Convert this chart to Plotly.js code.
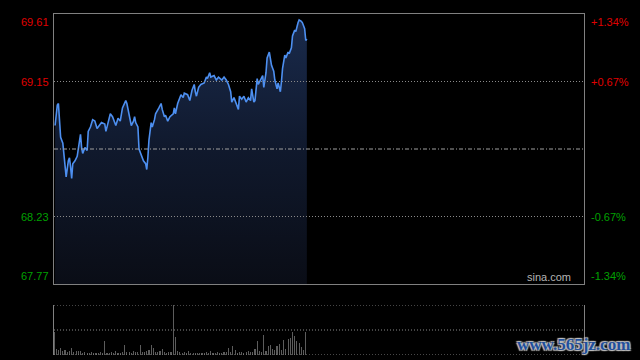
<!DOCTYPE html>
<html>
<head>
<meta charset="utf-8">
<script src="https://cdn.plot.ly/plotly-3.0.1.min.js"></script>
<style>
html,body{margin:0;padding:0;background:#000;}
#chart{width:640px;height:360px;}
</style>
</head>
<body>
<div id="chart"></div>
<script>
// Minutes since the open (0..240 covers the full trading day)
const minutes = [0.5,1.5,2,2.5,3,4,5,5.5,6.5,7,7.5,8,8.5,9.5,10.5,11,12,12.5,13,14,15,15.5,16.5,17.5,18.5,19.5,20.5,21.5,23,23.5,24.5,25.5,26.5,28,29,30,31,32.5,33,34,35,36,36.5,37,38,38.5,39.5,40.5,41.5,42,42.5,43,44,44.5,45.5,46,47.5,48.5,49,50,50.5,51.5,52.5,54,54.5,55,56,57.5,58.5,59,60.5,61.5,62.5,63.5,64,64.5,65.5,66.5,68,69,69.5,70.5,71,72.5,73.5,74.5,76,77,78,79,80,80.5,81.5,82.5,83.5,84,85,86,87,88,89,89.5,90.5,91,92,92.5,93.5,94.5,95,96,96.5,97.5,98.5,99.5,100,101,101.5,102.5,103,103.5,104.5,105,106,106.5,107.5,108,109,109.5,110.5,111,112,112.5,113.5,114,114.5];
const prices = [68.85,68.99,69.00,68.91,68.77,68.73,68.59,68.50,68.61,68.63,68.57,68.49,68.59,68.61,68.64,68.70,68.79,68.70,68.66,68.70,68.68,68.81,68.84,68.89,68.88,68.83,68.85,68.87,68.86,68.81,68.87,68.93,68.91,68.85,68.90,68.88,68.97,69.02,69.00,68.92,68.85,68.88,68.91,68.87,68.84,68.69,68.65,68.61,68.59,68.55,68.63,68.75,68.87,68.84,68.89,68.93,68.97,69.00,68.96,68.91,68.92,68.88,68.91,68.93,68.97,68.93,69.00,69.06,69.04,69.07,69.06,69.02,69.09,69.13,69.08,69.05,69.11,69.13,69.14,69.18,69.17,69.21,69.18,69.19,69.16,69.18,69.16,69.18,69.16,69.13,69.08,69.01,69.04,69.00,68.96,69.05,69.03,69.05,69.01,69.04,69.02,69.10,69.01,69.02,69.17,69.13,69.16,69.19,69.11,69.21,69.31,69.35,69.26,69.22,69.16,69.10,69.14,69.08,69.15,69.24,69.33,69.31,69.35,69.34,69.38,69.46,69.50,69.49,69.55,69.57,69.56,69.55,69.51,69.43,69.44];
// Volume per minute, one value per minute from the open
const volumes = [45,12,9,14,7,9,6,8,14,5,8,8,7,4,5,3,4,6,3,4,3,5,4,27,4,3,5,4,8,3,4,6,20,5,6,4,7,5,6,19,5,6,8,10,20,14,6,5,7,12,6,4,5,6,100,35,7,5,4,5,4,8,3,4,3,4,3,4,3,5,4,8,4,3,6,4,3,5,6,13,5,17,9,4,5,6,4,5,7,6,5,11,27,7,6,40,8,17,20,12,9,18,22,10,30,12,31,33,47,38,27,24,15,10,47];
const prevClose = 68.69;
const priceTicks = [69.61, 69.15, 68.23, 67.77];
const priceTickText = ["69.61", "69.15", "68.23", "67.77"];
const pctTickText = ["+1.34%", "+0.67%", "-0.67%", "-1.34%"];
const dayMinutes = 240;
const volMax = 100;

const volMinutes = volumes.map((v, i) => i);
const RED = "#e00000", GREEN = "#00a000";
const FONT = "Arial, 'Liberation Sans', sans-serif";

const traces = [
  {
    x: minutes, y: prices, type: "scatter", mode: "lines",
    line: {color: "#4d8ff0", width: 1.6},
    fill: "tozeroy",
    fillgradient: {type: "vertical", start: priceTicks[3], stop: priceTicks[0],
      colorscale: [[0, "#0a0d16"], [0.5, "#10192d"], [1, "#1a2b4d"]]},
    xaxis: "x", yaxis: "y", hoverinfo: "skip"
  },
  {
    x: volMinutes, y: volumes, type: "bar", width: 0.5,
    marker: {color: "#5c5c5c", line: {width: 0}},
    xaxis: "x2", yaxis: "y2", hoverinfo: "skip"
  }
];

const annotations = [];
priceTicks.forEach((p, i) => {
  const col = p > prevClose ? RED : GREEN;
  const ya = i === 0 ? "top" : (i === priceTicks.length - 1 ? "bottom" : "middle");
  annotations.push({xref: "paper", yref: "y", x: 0, y: p, xanchor: "right", yanchor: ya,
    xshift: -3, text: priceTickText[i], showarrow: false, font: {family: FONT, size: 11, color: col}});
  annotations.push({xref: "paper", yref: "y", x: 1, y: p, xanchor: "left", yanchor: ya,
    xshift: 5, text: pctTickText[i], showarrow: false, font: {family: FONT, size: 11, color: col}});
});
annotations.push({xref: "paper", yref: "y", x: 1, y: priceTicks[3], xanchor: "right", yanchor: "bottom",
  xshift: -11, yshift: -1, text: "sina.com", showarrow: false, font: {family: FONT, size: 11, color: "#b4b4b4"}});
annotations.push({xref: "paper", yref: "paper", x: 1, y: 0, xanchor: "left", yanchor: "middle",
  xshift: -69, yshift: 11, text: "<b>www.565jz.com</b>", showarrow: false,
  font: {family: "'Liberation Serif', serif", size: 17, color: "#1f4f9c",
    shadow: "1px 1px 1px #c0c0c0, -1px -1px 1px #c0c0c0, 1px -1px 1px #c0c0c0, -1px 1px 1px #c0c0c0"}});

const DOT = "1px,2px";
const shapes = [];
[priceTicks[1], priceTicks[2]].forEach(p => shapes.push({type: "line", xref: "paper", yref: "y",
  x0: 0, x1: 1, y0: p, y1: p, line: {color: "#8a8a8a", width: 1, dash: DOT}}));
shapes.push({type: "line", xref: "paper", yref: "y", x0: 0, x1: 1, y0: prevClose, y1: prevClose,
  line: {color: "#a0a0a0", width: 1, dash: "4px,2px,1px,2px"}});
[volMax, volMax / 2, 0].forEach(v => shapes.push({type: "line", xref: "paper", yref: "y2",
  x0: 0, x1: 1, y0: v, y1: v, line: {color: "#8a8a8a", width: 1, dash: DOT}}));

const layout = {
  width: 640, height: 360,
  margin: {l: 54, r: 56, t: 14, b: 5},
  paper_bgcolor: "#000", plot_bgcolor: "#000",
  showlegend: false,
  bargap: 0,
  xaxis: {range: [0, dayMinutes], showgrid: false, zeroline: false, showticklabels: false, ticks: "",
    showline: true, mirror: true, linecolor: "#808080", linewidth: 1, anchor: "y", fixedrange: true},
  yaxis: {range: [priceTicks[3], priceTicks[0]], domain: [0.2082, 1], showgrid: false, zeroline: false,
    showticklabels: false, ticks: "", showline: true, mirror: true, linecolor: "#808080", linewidth: 1},
  xaxis2: {range: [0, dayMinutes], showgrid: false, zeroline: false, showticklabels: false, ticks: "",
    showline: false, anchor: "y2"},
  yaxis2: {range: [0, volMax], domain: [0, 0.1466], showgrid: false, zeroline: false, showticklabels: false,
    ticks: "", showline: true, mirror: true, linecolor: "#808080", linewidth: 1, anchor: "x2"},
  annotations: annotations,
  shapes: shapes
};

Plotly.newPlot("chart", traces, layout, {staticPlot: true, displayModeBar: false});
</script>
</body>
</html>
